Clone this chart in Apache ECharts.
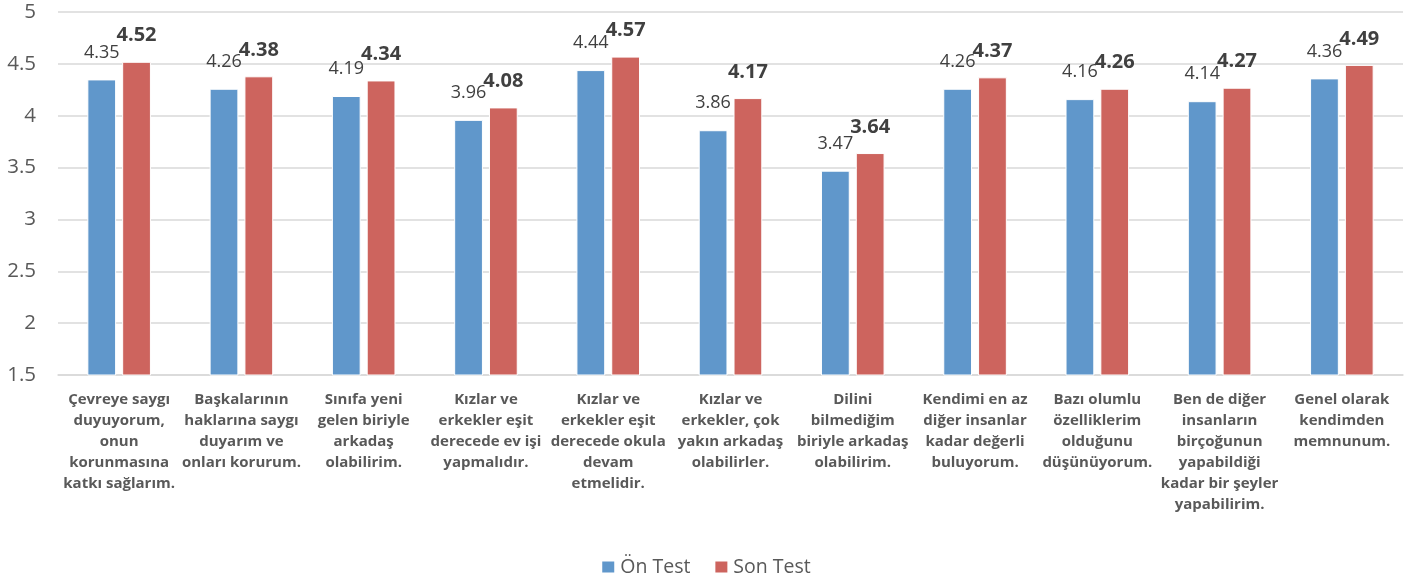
<!DOCTYPE html>
<html>
<head>
<meta charset="utf-8">
<script src="https://cdn.jsdelivr.net/npm/echarts@6/dist/echarts.min.js"></script>
<style>html,body{margin:0;padding:0;background:#fff;}#c{width:1411px;height:585px;}</style>
</head>
<body>
<div id="c"></div>
<script>
const categories = [
  "Çevreye saygı\nduyuyorum,\nonun\nkorunmasına\nkatkı sağlarım.",
  "Başkalarının\nhaklarına saygı\nduyarım ve\nonları korurum.",
  "Sınıfa yeni\ngelen biriyle\narkadaş\nolabilirim.",
  "Kızlar ve\nerkekler eşit\nderecede ev işi\nyapmalıdır.",
  "Kızlar ve\nerkekler eşit\nderecede okula\ndevam\netmelidir.",
  "Kızlar ve\nerkekler, çok\nyakın arkadaş\nolabilirler.",
  "Dilini\nbilmediğim\nbiriyle arkadaş\nolabilirim.",
  "Kendimi en az\ndiğer insanlar\nkadar değerli\nbuluyorum.",
  "Bazı olumlu\nözelliklerim\nolduğunu\ndüşünüyorum.",
  "Ben de diğer\ninsanların\nbirçoğunun\nyapabildiği\nkadar bir şeyler\nyapabilirim.",
  "Genel olarak\nkendimden\nmemnunum."
];
const onTest = [4.35, 4.26, 4.19, 3.96, 4.44, 3.86, 3.47, 4.26, 4.16, 4.14, 4.36];
const sonTest = [4.52, 4.38, 4.34, 4.08, 4.57, 4.17, 3.64, 4.37, 4.26, 4.27, 4.49];
const seriesNames = ["Ön Test", "Son Test"];

const chart = echarts.init(document.getElementById('c'));
chart.setOption({
  animation: false,
  textStyle: { fontFamily: 'Open Sans' },
  grid: { left: 58, right: 8, top: 12, bottom: 210 },
  legend: {
    bottom: 3, left: 'center',
    itemWidth: 14, itemHeight: 13, itemGap: 23,
    icon: 'rect',
    textStyle: { fontSize: 19.5, color: '#595959', fontFamily: 'Open Sans' },
    data: seriesNames
  },
  xAxis: {
    type: 'category',
    data: categories,
    axisLine: { lineStyle: { color: '#D9D9D9', width: 1.5 } },
    axisTick: { show: false },
    axisLabel: {
      interval: 0, margin: 14,
      fontSize: 15, fontWeight: 'bold', color: '#595959', lineHeight: 21,
      fontFamily: 'Open Sans'
    }
  },
  yAxis: {
    type: 'value', min: 1.5, max: 5, interval: 0.5,
    axisLine: { show: false }, axisTick: { show: false },
    axisLabel: { fontSize: 20.5, color: '#595959', margin: 22, fontFamily: 'Open Sans' },
    splitLine: { lineStyle: { color: '#D9D9D9', width: 1.5 } }
  },
  series: [
    {
      name: seriesNames[0], type: 'bar', data: onTest,
      barGap: '21%', barCategoryGap: '48%',
      itemStyle: { color: '#6097CB', borderColor: '#ffffff', borderWidth: 1 },
      label: { show: true, position: 'top', distance: 18, fontSize: 18, color: '#404040', fontFamily: 'Open Sans' }
    },
    {
      name: seriesNames[1], type: 'bar', data: sonTest,
      barGap: '21%', barCategoryGap: '48%',
      itemStyle: { color: '#CD645E', borderColor: '#ffffff', borderWidth: 1 },
      label: { show: true, position: 'top', distance: 16, fontSize: 20, fontWeight: 'bold', color: '#404040', fontFamily: 'Open Sans' }
    }
  ]
});
</script>
</body>
</html>
